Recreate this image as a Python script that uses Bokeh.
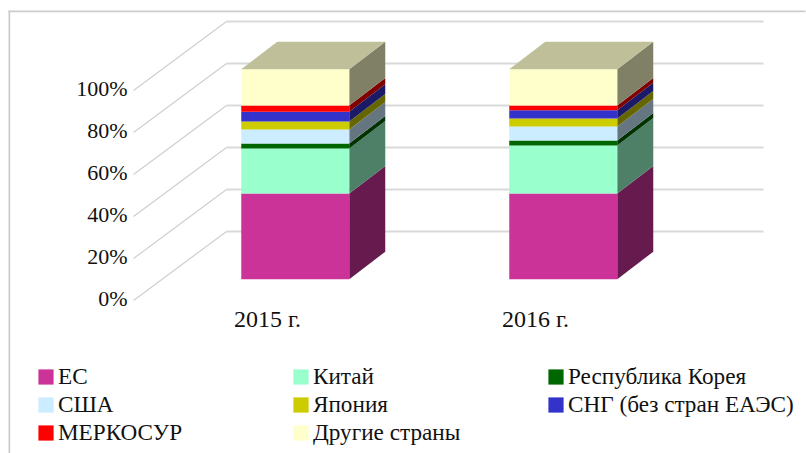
from bokeh.plotting import figure
from bokeh.models import (Range1d, LinearAxis, FixedTicker, Legend, LegendItem, BoxAnnotation)
from bokeh.embed import file_html
from bokeh.resources import INLINE

categories = ["2015 г.", "2016 г."]
tick_values = [0, 20, 40, 60, 80, 100]

names = ["ЕС", "Китай", "Республика Корея", "США", "Япония",
         "СНГ (без стран ЕАЭС)", "МЕРКОСУР", "Другие страны"]
values_2015 = [40.8, 21.4, 2.4, 6.7, 3.8, 4.6, 3.0, 17.3]
values_2016 = [40.8, 22.9, 2.3, 6.7, 3.8, 3.9, 2.3, 17.3]
front_colors = ["#CC3399", "#99FFCC", "#006600", "#CCECFF", "#CCCC00", "#3333CC", "#FF0000", "#FFFFCC"]
side_colors = ["#661A4D", "#4D8066", "#003300", "#667680", "#666600", "#1A1A66", "#800000", "#808066"]
top_color = "#BFBF99"
series = [values_2015, values_2016]

FONT = "Liberation Serif"
# layout constants (canvas pixels)
W, H = 806, 453
ORIGIN_X, ZERO_Y = 133, 298
AXIS_Y = 302
PX_CAT, PX_PCT = 268.0, 2.1
WALL_DX, WALL_DY = 93.0, 69.0
WALL_DROP = 2.0
BAR_OFF, BAR_HALF = 27.75, 54.0
BAR_DX, BAR_DY = 36.0, 27.5
BAR_LIFT = 19.3

p = figure(width=W, height=H, output_backend="svg", toolbar_location=None,
           x_range=Range1d(-ORIGIN_X / PX_CAT, (W - ORIGIN_X) / PX_CAT),
           y_range=Range1d((ZERO_Y - H) / PX_PCT, ZERO_Y / PX_PCT),
           x_axis_type=None, y_axis_type=None,
           min_border=0, min_border_left=0, min_border_right=0, min_border_top=0, min_border_bottom=0)
p.grid.visible = False
p.outline_line_color = None
p.background_fill_color = "white"

# chart border (top and left)
GR = "#cccccc"
p.add_layout(BoxAnnotation(left=8, right=805, top=10, bottom=11.7, left_units="canvas", right_units="canvas",
                           top_units="canvas", bottom_units="canvas", fill_color=GR, fill_alpha=1, line_color=None))
p.add_layout(BoxAnnotation(left=8, right=9.7, top=10, bottom=H, left_units="canvas", right_units="canvas",
                           top_units="canvas", bottom_units="canvas", fill_color=GR, fill_alpha=1, line_color=None))

# walls
drop = WALL_DROP / PX_PCT
wdx = WALL_DX / PX_CAT
wdy = WALL_DY / PX_PCT
back_end = (763 - ORIGIN_X) / PX_CAT
p.multi_line([[0, wdx] for _ in tick_values],
             [[t - drop, t - drop + wdy] for t in tick_values],
             line_color="#cfcfcf", line_width=1.2)
p.multi_line([[wdx, back_end] for _ in tick_values],
             [[t - drop + wdy, t - drop + wdy] for t in tick_values],
             line_color="#d9d9d9", line_width=2)

# stacked boxes
bdx = BAR_DX / PX_CAT
bdy = BAR_DY / PX_PCT
lift = BAR_LIFT / PX_PCT
half = BAR_HALF / PX_CAT
off = BAR_OFF / PX_CAT
lefts = [i + 0.5 + off - half for i in range(len(categories))]
rights = [i + 0.5 + off + half for i in range(len(categories))]

legend_items = []
bottoms = [0.0 for _ in categories]
for k, name in enumerate(names):
    vals = [s[k] for s in series]
    tops = [b + v for b, v in zip(bottoms, vals)]
    y0 = [b + lift for b in bottoms]
    y1 = [t + lift for t in tops]
    p.patches([[r, r + bdx, r + bdx, r] for r in rights],
              [[a, a + bdy, b + bdy, b] for a, b in zip(y0, y1)],
              fill_color=side_colors[k], line_color=None)
    q = p.quad(left=lefts, right=rights, bottom=y0, top=y1,
               fill_color=front_colors[k], line_color=None)
    legend_items.append(LegendItem(label=name, renderers=[q]))
    bottoms = tops

# top faces
p.patches([[l, l + bdx, r + bdx, r] for l, r in zip(lefts, rights)],
          [[t + lift, t + lift + bdy, t + lift + bdy, t + lift] for t in bottoms],
          fill_color=top_color, line_color=None)

# axes, placed inside the full-page frame
ya = LinearAxis(ticker=FixedTicker(ticks=tick_values),
                major_label_overrides={t: f"{t}%" for t in tick_values},
                fixed_location=0)
xa = LinearAxis(ticker=FixedTicker(ticks=[i + 0.5 for i in range(len(categories))]),
                major_label_overrides={i + 0.5: c for i, c in enumerate(categories)},
                fixed_location=(ZERO_Y - AXIS_Y) / PX_PCT)
for a in (ya, xa):
    a.axis_line_color = None
    a.major_tick_line_color = None
    a.minor_tick_line_color = None
    a.major_label_text_font = FONT
    a.major_label_text_color = "#111111"
ya.major_label_text_font_size = "22px"
xa.major_label_text_font_size = "24px"
ya.major_label_standoff = 0
xa.major_label_standoff = -3
p.add_layout(ya, "left")
p.add_layout(xa, "below")

legend = Legend(items=legend_items, ncols=3, orientation="horizontal",
                location=(36, 7), padding=0, margin=0, spacing=1,
                glyph_width=19, glyph_height=19, label_standoff=3, label_width=232, label_height=26,
                label_text_font=FONT, label_text_font_size="23.2px", label_text_color="#111111",
                border_line_color=None, background_fill_alpha=0)
p.add_layout(legend, "center")

open("out.html", "w").write(file_html(p, INLINE))
